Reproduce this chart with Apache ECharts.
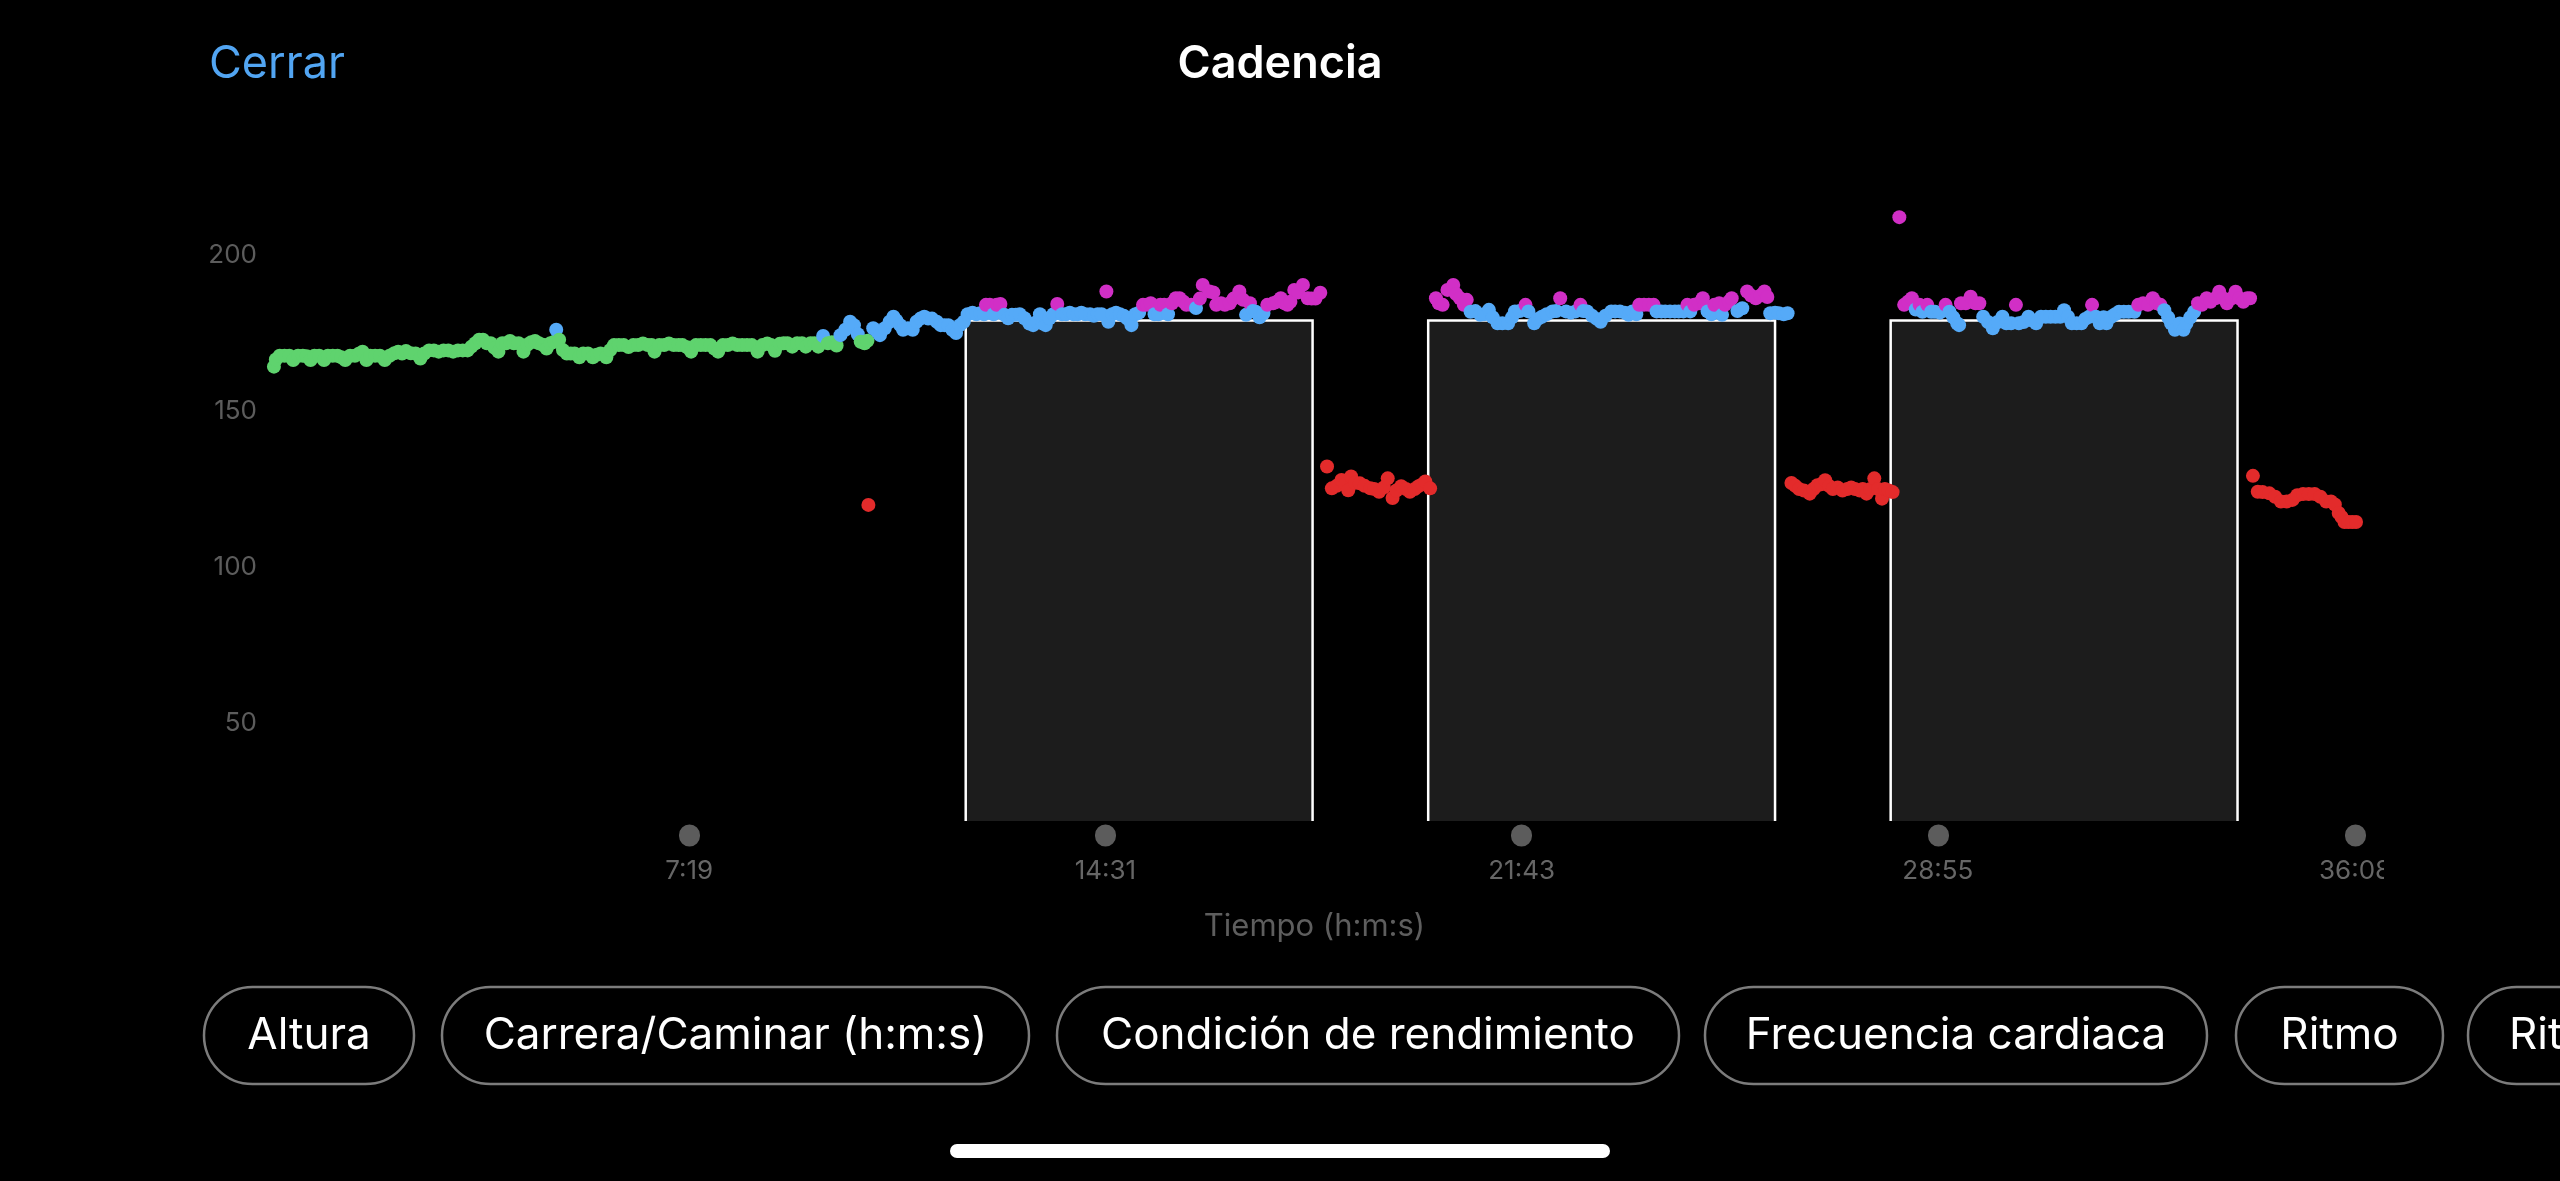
<!DOCTYPE html>
<html><head><meta charset="utf-8">
<style>html,body{margin:0;padding:0;background:#000;}#chart{width:2560px;height:1181px;}</style>
<script src="https://cdn.jsdelivr.net/npm/echarts@6/dist/echarts.min.js"></script>
</head><body><div id="chart"></div>
<script>
// ---- data ----
const tickSeconds = [439, 871, 1303, 1735, 2168];
const tickLabels = ['7:19', '14:31', '21:43', '28:55', '36:08'];
const yTickValues = [50, 100, 150, 200];
const X_MIN = 6, X_MAX = 2170, Y_MIN = 18.6, Y_MAX = 230.1;

const lapStart = [726, 1206, 1686];
const lapEnd = [1086, 1566, 2046];
const lapCadence = [179, 179, 179];

const warmup = [[8,164.2],[10,166.5],[14,167.7],[19,167.7],[24,167.7],[28,166.3],[33,167.7],[38,167.7],[42,167.5],[46,166.3],[50,167.7],[55,167.7],[60,166.3],[64,167.7],[69,167.7],[74,167.7],[78,167.2],[82,166.3],[87,167.7],[92,167.7],[96,168.3],[100,169.0],[104,166.3],[108,167.7],[113,167.7],[118,167.7],[123,166.3],[128,167.7],[133,168.5],[137,169.0],[141,168.4],[145,169.2],[150,168.5],[155,168.4],[160,166.8],[164,168.4],[169,169.4],[174,169.4],[179,169.0],[184,169.4],[189,169.4],[194,169.0],[199,169.4],[204,169.4],[209,169.4],[213,170.6],[217,171.7],[221,172.8],[225,172.8],[229,171.7],[233,171.7],[237,170.2],[241,169.0],[245,171.7],[249,171.7],[253,172.4],[257,171.7],[262,171.7],[267,169.0],[271,171.2],[275,172.0],[279,172.4],[283,171.7],[287,171.2],[291,170.0],[295,171.7],[299,172.2],[301,176.0],[304,172.8],[308,169.5],[312,168.4],[316,168.4],[320,168.4],[325,167.2],[329,168.4],[334,168.4],[339,167.2],[343,168.0],[347,168.4],[353,167.2],[357,169.5],[361,171.1],[366,171.1],[371,171.1],[376,170.5],[381,171.1],[386,171.1],[391,171.6],[396,171.1],[400,171.1],[403,169.0],[408,171.1],[413,171.1],[418,171.6],[423,171.1],[428,171.1],[432,171.1],[437,170.4],[441,169.0],[446,171.1],[451,171.1],[456,171.1],[461,171.1],[465,170.0],[469,169.0],[474,171.1],[479,171.1],[484,171.6],[489,171.1],[494,171.1],[499,171.1],[504,171.1],[510,169.0],[515,171.1],[520,171.6],[524,171.1],[528,169.3],[533,171.5],[537,171.7],[541,171.7],[546,170.6],[551,171.7],[556,171.7],[560,170.6],[565,171.7],[569,171.7],[573,170.6],[578,174.0],[583,171.7],[587,172.0],[592,171.0],[596,174.3],[601,176.0],[606,178.6],[610,177.5],[614,174.6],[617,172.2],[621,171.7],[624,172.5],[625,119.9],[630,176.5],[634,175.5],[637,174.3],[642,176.5],[647,178.6],[651,180.2],[654,179.0],[658,177.5],[661,176.0],[666,176.5],[671,176.0],[675,178.6],[679,179.6],[683,180.2],[687,179.6],[691,179.6],[696,178.6],[700,177.5],[704,177.5],[708,177.5],[712,176.0],[716,175.0],[720,177.5],[724,178.6]];

const lap1 = [[728,181.0],[733,181.5],[737,181.0],[741,181.3],[745,181.0],[747,184.0],[751,184.0],[755,181.0],[758,184.0],[762,184.3],[766,180.8],[770,179.7],[774,180.8],[778,180.8],[782,181.0],[787,179.7],[792,178.0],[796,177.5],[800,178.6],[803,181.0],[806,178.0],[809,177.5],[813,179.7],[817,181.0],[821,184.3],[826,181.0],[830,181.0],[834,181.5],[838,181.0],[842,181.0],[846,181.5],[850,181.0],[855,181.0],[859,180.5],[863,181.0],[867,181.0],[872,188.3],[874,178.6],[878,181.0],[882,181.5],[886,181.0],[890,180.5],[894,179.5],[898,177.5],[902,181.0],[906,181.5],[910,184.0],[914,184.0],[918,184.5],[922,181.0],[926,181.0],[928,184.0],[932,184.0],[936,181.0],[940,184.5],[944,186.1],[948,186.1],[952,185.0],[955,184.0],[960,184.0],[965,183.0],[969,186.0],[972,190.4],[979,188.3],[983,188.0],[986,184.0],[991,184.5],[995,184.0],[1000,184.5],[1004,186.0],[1010,188.3],[1014,185.6],[1017,180.8],[1021,184.5],[1024,182.0],[1027,181.8],[1031,180.0],[1035,181.3],[1039,184.0],[1045,184.5],[1049,185.0],[1053,186.1],[1057,184.5],[1060,184.0],[1063,185.0],[1067,188.8],[1071,188.0],[1076,190.4],[1081,186.1],[1085,186.0],[1089,186.0],[1094,187.9]];

const walk1 = [[1101,132.2],[1106,125.2],[1111,126.0],[1116,127.9],[1120,126.5],[1123,124.6],[1126,129.0],[1130,127.0],[1135,126.8],[1140,126.0],[1146,125.2],[1150,125.0],[1155,124.1],[1160,125.5],[1164,128.4],[1169,122.1],[1173,124.5],[1178,125.9],[1183,125.0],[1187,124.1],[1192,125.0],[1196,125.9],[1200,126.5],[1203,127.4],[1208,125.2]];

const lap2 = [[1214,186.1],[1217,184.5],[1221,184.0],[1226,188.8],[1232,190.4],[1235,187.5],[1239,186.1],[1243,184.0],[1246,185.6],[1250,181.8],[1255,182.0],[1260,180.8],[1264,181.0],[1269,182.4],[1273,180.0],[1278,178.1],[1283,178.1],[1289,178.1],[1293,180.0],[1296,181.9],[1301,182.0],[1307,184.0],[1310,181.9],[1316,178.1],[1320,179.5],[1324,180.2],[1329,181.0],[1335,181.9],[1339,182.0],[1343,186.1],[1349,181.9],[1354,181.5],[1359,181.9],[1364,184.0],[1367,182.0],[1371,181.9],[1376,180.5],[1381,179.5],[1385,178.6],[1390,180.5],[1396,181.9],[1400,181.9],[1405,181.9],[1410,181.5],[1414,180.8],[1418,181.9],[1422,181.0],[1425,184.0],[1430,184.0],[1435,184.0],[1440,184.0],[1443,181.9],[1448,181.9],[1452,181.9],[1457,181.9],[1462,181.9],[1466,181.9],[1471,181.9],[1475,184.0],[1478,181.9],[1482,184.0],[1487,184.5],[1491,186.1],[1493,184.0],[1496,181.9],[1500,181.0],[1503,184.0],[1508,184.5],[1511,180.8],[1514,184.0],[1518,185.0],[1521,186.1],[1527,182.0],[1532,182.9],[1537,188.3],[1541,187.0],[1546,186.1],[1551,187.0],[1555,188.3],[1558,186.5],[1561,181.3],[1566,181.5],[1570,181.3],[1575,181.0],[1579,181.3]];

const walk2 = [[1583,126.9],[1587,126.0],[1591,125.0],[1596,124.5],[1602,123.5],[1606,125.0],[1610,126.2],[1614,126.5],[1618,127.8],[1622,126.0],[1626,125.0],[1631,125.5],[1636,124.5],[1641,125.0],[1645,125.5],[1649,125.0],[1654,124.5],[1657,125.0],[1661,123.5],[1665,125.0],[1669,128.4],[1673,125.0],[1677,121.9],[1680,125.0],[1684,124.5],[1688,124.0]];

const lap3 = [[1695,212.1],[1700,184.0],[1704,185.0],[1708,186.1],[1712,182.5],[1716,184.0],[1719,181.8],[1724,184.0],[1728,181.8],[1732,181.8],[1737,181.5],[1743,184.0],[1747,181.8],[1751,180.0],[1755,178.1],[1757,177.5],[1759,184.5],[1764,184.5],[1769,186.6],[1774,184.5],[1778,184.5],[1782,180.2],[1787,178.5],[1792,176.5],[1797,178.5],[1802,180.2],[1806,178.1],[1811,178.1],[1816,184.0],[1819,178.1],[1824,178.5],[1829,180.2],[1833,179.0],[1837,178.1],[1842,180.2],[1847,180.2],[1852,180.2],[1857,180.2],[1862,180.2],[1866,182.3],[1870,180.2],[1874,178.1],[1879,178.1],[1884,178.1],[1888,179.5],[1892,180.2],[1895,184.0],[1899,180.2],[1903,178.1],[1907,180.0],[1910,178.1],[1915,180.2],[1919,181.0],[1923,181.8],[1928,181.8],[1933,181.8],[1939,181.8],[1943,184.0],[1948,184.5],[1953,184.0],[1958,186.1],[1962,184.5],[1966,184.0],[1970,182.3],[1974,180.0],[1977,178.1],[1981,176.0],[1986,178.0],[1990,176.0],[1993,178.1],[1997,180.0],[2001,181.8],[2005,184.5],[2009,184.0],[2014,186.1],[2018,185.0],[2023,186.1],[2027,188.2],[2031,186.1],[2035,184.5],[2040,186.1],[2044,188.2],[2048,186.1],[2052,185.0],[2056,186.1],[2059,186.1]];

const walk3 = [[2062,129.2],[2067,124.1],[2072,124.0],[2079,123.6],[2085,122.5],[2091,121.0],[2097,121.0],[2103,121.5],[2108,123.0],[2114,123.4],[2120,123.4],[2126,123.4],[2132,122.5],[2138,121.0],[2143,121.0],[2147,120.0],[2151,117.3],[2154,116.0],[2157,114.4],[2161,114.4],[2165,114.4],[2169,114.4]];

const buttonLabels = ['Altura', 'Carrera/Caminar (h:m:s)', 'Condición de rendimiento', 'Frecuencia cardiaca', 'Ritmo', 'Ritmo de carrera'];

// ---- chart ----
const FONT = 'Inter, "Noto Sans", sans-serif';
const pillBoxes = [[204,210],[442,587],[1057,622],[1705,502],[2236,207],[2468,400]];
const graphics = [];
pillBoxes.forEach((b, i) => {
  graphics.push({type:'rect', shape:{x:b[0], y:987, width:b[1], height:97, r:48.5},
    style:{fill:'none', stroke:'#7c7c7c', lineWidth:2.5}});
  const last = i === pillBoxes.length - 1;
  graphics.push({type:'text', x: last ? b[0] + 41 : b[0] + b[1] / 2, y: 1036,
    style:{text: buttonLabels[i], fill:'#ffffff', fontSize:44, fontFamily:FONT,
      align: last ? 'left' : 'center', verticalAlign:'middle'}});
});
graphics.push({type:'rect', shape:{x:950, y:1144, width:660, height:14, r:7}, style:{fill:'#ffffff'}});
graphics.push({type:'rect', z:100, shape:{x:2384, y:845, width:150, height:50}, style:{fill:'#000000'}});

const chart = echarts.init(document.getElementById('chart'));
chart.setOption({
  backgroundColor: '#000000',
  animation: false,
  title: [
    {text:'Cadencia', left:'center', top:37, textStyle:{color:'#ffffff', fontSize:45, fontWeight:600, fontFamily:FONT}},
    {text:'Cerrar', left:204, top:37, textStyle:{color:'#52a5f2', fontSize:45, fontWeight:'normal', fontFamily:FONT}}
  ],
  grid: {left:272, right:203, top:161, bottom:360},
  xAxis: [{
    type:'value', min:X_MIN, max:X_MAX,
    axisLine:{show:false}, splitLine:{show:false}, axisTick:{show:false},
    axisLabel:{customValues:tickSeconds, color:'#666666', fontSize:26, fontFamily:FONT, margin:37,
      formatter:(v) => tickLabels[tickSeconds.indexOf(v)]},
    name:'Tiempo (h:m:s)', nameLocation:'middle', nameGap:90,
    nameTextStyle:{color:'#5e5e5e', fontSize:31, fontFamily:FONT}
  }, {
    type:'value', min:X_MIN, max:X_MAX, position:'bottom', offset:14,
    axisLine:{show:false}, splitLine:{show:false}, axisLabel:{show:false},
    axisTick:{show:true, customValues:tickSeconds, length:1, lineStyle:{color:'#5c5c5c', width:21, cap:'round'}}
  }],
  yAxis: {
    type:'value', min:Y_MIN, max:Y_MAX,
    axisLine:{show:false}, splitLine:{show:false}, axisTick:{show:false},
    axisLabel:{customValues:yTickValues, color:'#5c5c5c', fontSize:26, fontFamily:FONT, margin:15}
  },
  visualMap: {
    type:'piecewise', show:false, dimension:1, seriesIndex:1,
    pieces:[
      {lt:153, color:'#e32b2b'},
      {gte:153, lt:163.5, color:'#f08a24'},
      {gte:163.5, lt:173.5, color:'#5fd36e'},
      {gte:173.5, lt:183.5, color:'#55aaf8'},
      {gte:183.5, color:'#d12fc6'}
    ]
  },
  series: [{
    type:'custom', xAxisIndex:0, z:1, clip:true,
    data: lapStart.map((s, i) => [s, lapEnd[i], lapCadence[i]]),
    renderItem: (params, api) => {
      const tl = api.coord([api.value(0), api.value(2)]);
      const br = api.coord([api.value(1), Y_MIN]);
      return {type:'group', children:[
        {type:'rect', shape:{x:tl[0], y:tl[1], width:br[0]-tl[0], height:br[1]-tl[1]}, style:{fill:'#1c1c1c'}},
        {type:'polyline', shape:{points:[[tl[0],br[1]],[tl[0],tl[1]],[br[0],tl[1]],[br[0],br[1]]]},
          style:{stroke:'#ffffff', lineWidth:2.5, fill:null}}
      ]};
    }
  }, {
    type:'scatter', xAxisIndex:0, z:2, symbolSize:14,
    itemStyle:{opacity:1},
    data: [].concat(warmup, lap1, walk1, lap2, walk2, lap3, walk3)
  }],
  graphic: graphics
});
</script></body></html>
